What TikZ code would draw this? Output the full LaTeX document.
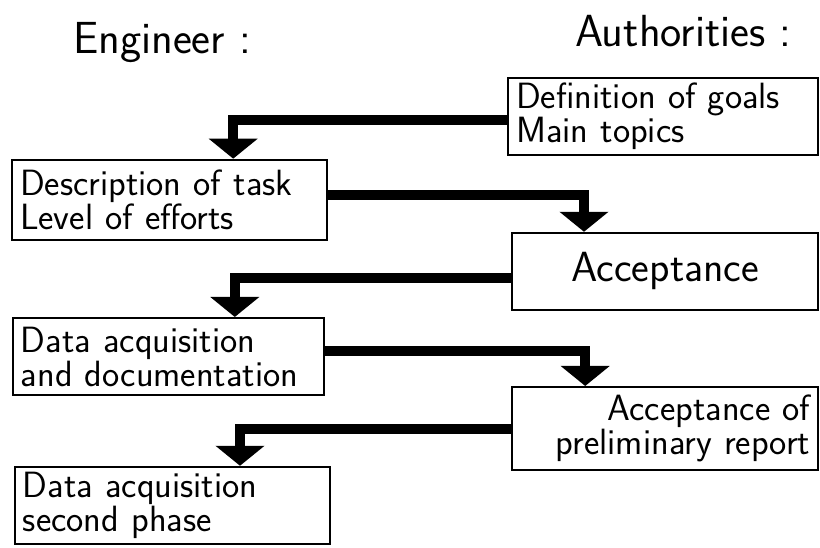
\documentclass[tikz,border=0pt]{standalone}
\usetikzlibrary{arrows.meta}

\tikzset{
  box/.style={draw, line width=1.6pt, inner xsep=0.2cm, inner ysep=0pt, align=left},
  flow/.style={line width=7pt},
  head/.style={font=\sffamily\fontsize{32}{36}\selectfont},
}

\begin{document}
\begin{tikzpicture}[font=\sffamily\fontsize{26}{24}\selectfont, line join=miter, >={Triangle[width=1.2cm,length=0.5cm]}]
\useasboundingbox (0,0) rectangle (20.5,13.675);

% Hai cột
\node[head] (eng) at (4.05,12.6) {Engineer :};
\node[head] (auth) at (17.08,12.9) {Authorities :};

% Các bước
\node[box, text width=7.35cm, minimum height=1.925cm] (goals) at (16.58,10.76) {Definition of goals\\Main topics};
\node[box, text width=7.475cm, minimum height=2.0cm] (task) at (4.24,8.68) {Description of task\\Level of efforts};
\node[box, text width=7.25cm, minimum height=1.925cm, align=center, font=\sffamily\fontsize{30}{32}\selectfont] (accept) at (16.63,6.89) {Acceptance};
\node[box, text width=7.375cm, minimum height=1.925cm] (data) at (4.21,4.76) {Data acquisition\\and documentation};
\node[box, text width=7.25cm, minimum height=2.075cm, align=right] (prelim) at (16.63,2.96) {Acceptance of\\preliminary report};
\node[box, text width=7.475cm, minimum height=1.925cm] (second) at (4.31,1.04) {Data acquisition\\second phase};

% Mũi tên qua lại
\draw[flow, ->] ([yshift=-0.09cm]goals.west) -| ([xshift=1.59cm]task.north);
\draw[flow, ->] ([yshift=0.13cm]task.east) -| ([xshift=-2.03cm]accept.north);
\draw[flow, ->] ([yshift=-0.16cm]accept.west) -| ([xshift=1.66cm]data.north);
\draw[flow, ->] ([yshift=0.13cm]data.east) -| ([xshift=-2.0cm]prelim.north);
\draw[flow, ->] (prelim.west) -| ([xshift=1.69cm]second.north);
\end{tikzpicture}
\end{document}
